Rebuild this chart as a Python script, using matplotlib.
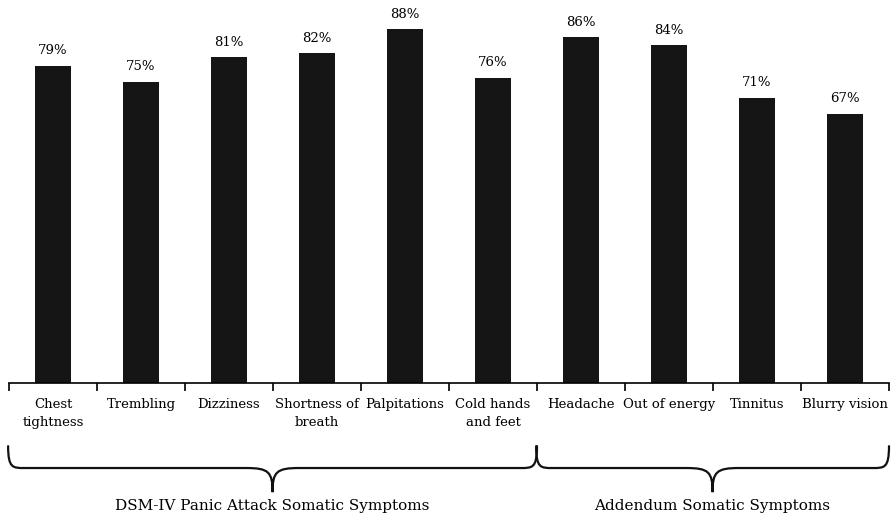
import matplotlib.pyplot as plt
import matplotlib.transforms as mtransforms
from matplotlib.patches import PathPatch
from matplotlib.path import Path
import numpy as np

# Symptom categories and percentages
symptoms = ['Chest\ntightness', 'Trembling', 'Dizziness', 'Shortness of\nbreath',
            'Palpitations', 'Cold hands\nand feet', 'Headache', 'Out of energy',
            'Tinnitus', 'Blurry vision']
percent = [79, 75, 81, 82, 88, 76, 86, 84, 71, 67]

# Groups: (first index, last index, label)
groups = [(0, 5, 'DSM-IV Panic Attack Somatic Symptoms'),
          (6, 9, 'Addendum Somatic Symptoms')]

plt.rcParams['font.family'] = ['DejaVu Serif']

fig = plt.figure(figsize=(8.92, 5.18), dpi=100)
ax = fig.add_axes([9 / 892, 1 - 383 / 518, 880 / 892, 383 / 518])

x = np.arange(len(symptoms))
bars = ax.bar(x, percent, width=0.41, color='#151515')
for xi, v in zip(x, percent):
    ax.annotate(f'{v}%', (xi, v), xytext=(0, 6), textcoords='offset points',
                ha='center', va='bottom', fontsize=9.5, clip_on=False)

ax.set_xlim(-0.5, len(symptoms) - 0.5)
ax.set_ylim(0, 95.3)
ax.set_xticks(x)
ax.set_xticklabels(symptoms, fontsize=9.5, linespacing=1.45)
ax.set_xticks(np.arange(-0.5, len(symptoms), 1.0), minor=True)
ax.tick_params(axis='x', which='major', length=0, pad=11)
ax.tick_params(axis='x', which='minor', length=6, width=1.2, direction='out')
ax.set_yticks([])
for side in ['top', 'left', 'right']:
    ax.spines[side].set_visible(False)
ax.spines['bottom'].set_linewidth(1.2)


def brace(ax, x0, x1, y_top, y_mid, y_tip, r_end=0.18, r_tip=0.3):
    trans = mtransforms.blended_transform_factory(ax.transData, ax.transAxes)
    xc = (x0 + x1) / 2
    verts = [
        (x0, y_top),
        (x0, y_mid), (x0 + r_end * 0.3, y_mid), (x0 + r_end, y_mid),
        (xc - r_tip, y_mid),
        (xc - r_tip * 0.15, y_mid), (xc, y_mid - 0.01), (xc, y_tip),
        (xc, y_mid - 0.01), (xc + r_tip * 0.15, y_mid), (xc + r_tip, y_mid),
        (x1 - r_end, y_mid),
        (x1 - r_end * 0.3, y_mid), (x1, y_mid), (x1, y_top),
    ]
    codes = [Path.MOVETO,
             Path.CURVE4, Path.CURVE4, Path.CURVE4,
             Path.LINETO,
             Path.CURVE4, Path.CURVE4, Path.CURVE4,
             Path.CURVE4, Path.CURVE4, Path.CURVE4,
             Path.LINETO,
             Path.CURVE4, Path.CURVE4, Path.CURVE4]
    patch = PathPatch(Path(verts, codes), transform=trans, fill=False,
                      lw=1.6, color='#111111', clip_on=False, capstyle='round')
    ax.add_patch(patch)
    return xc


for i0, i1, label in groups:
    xc = brace(ax, i0 - 0.51, i1 + 0.5, -0.165, -0.222, -0.285)
    ax.text(xc, -0.32, label, transform=mtransforms.blended_transform_factory(
        ax.transData, ax.transAxes), ha='center', va='center', fontsize=11)

fig.savefig('out.png', dpi=100)
